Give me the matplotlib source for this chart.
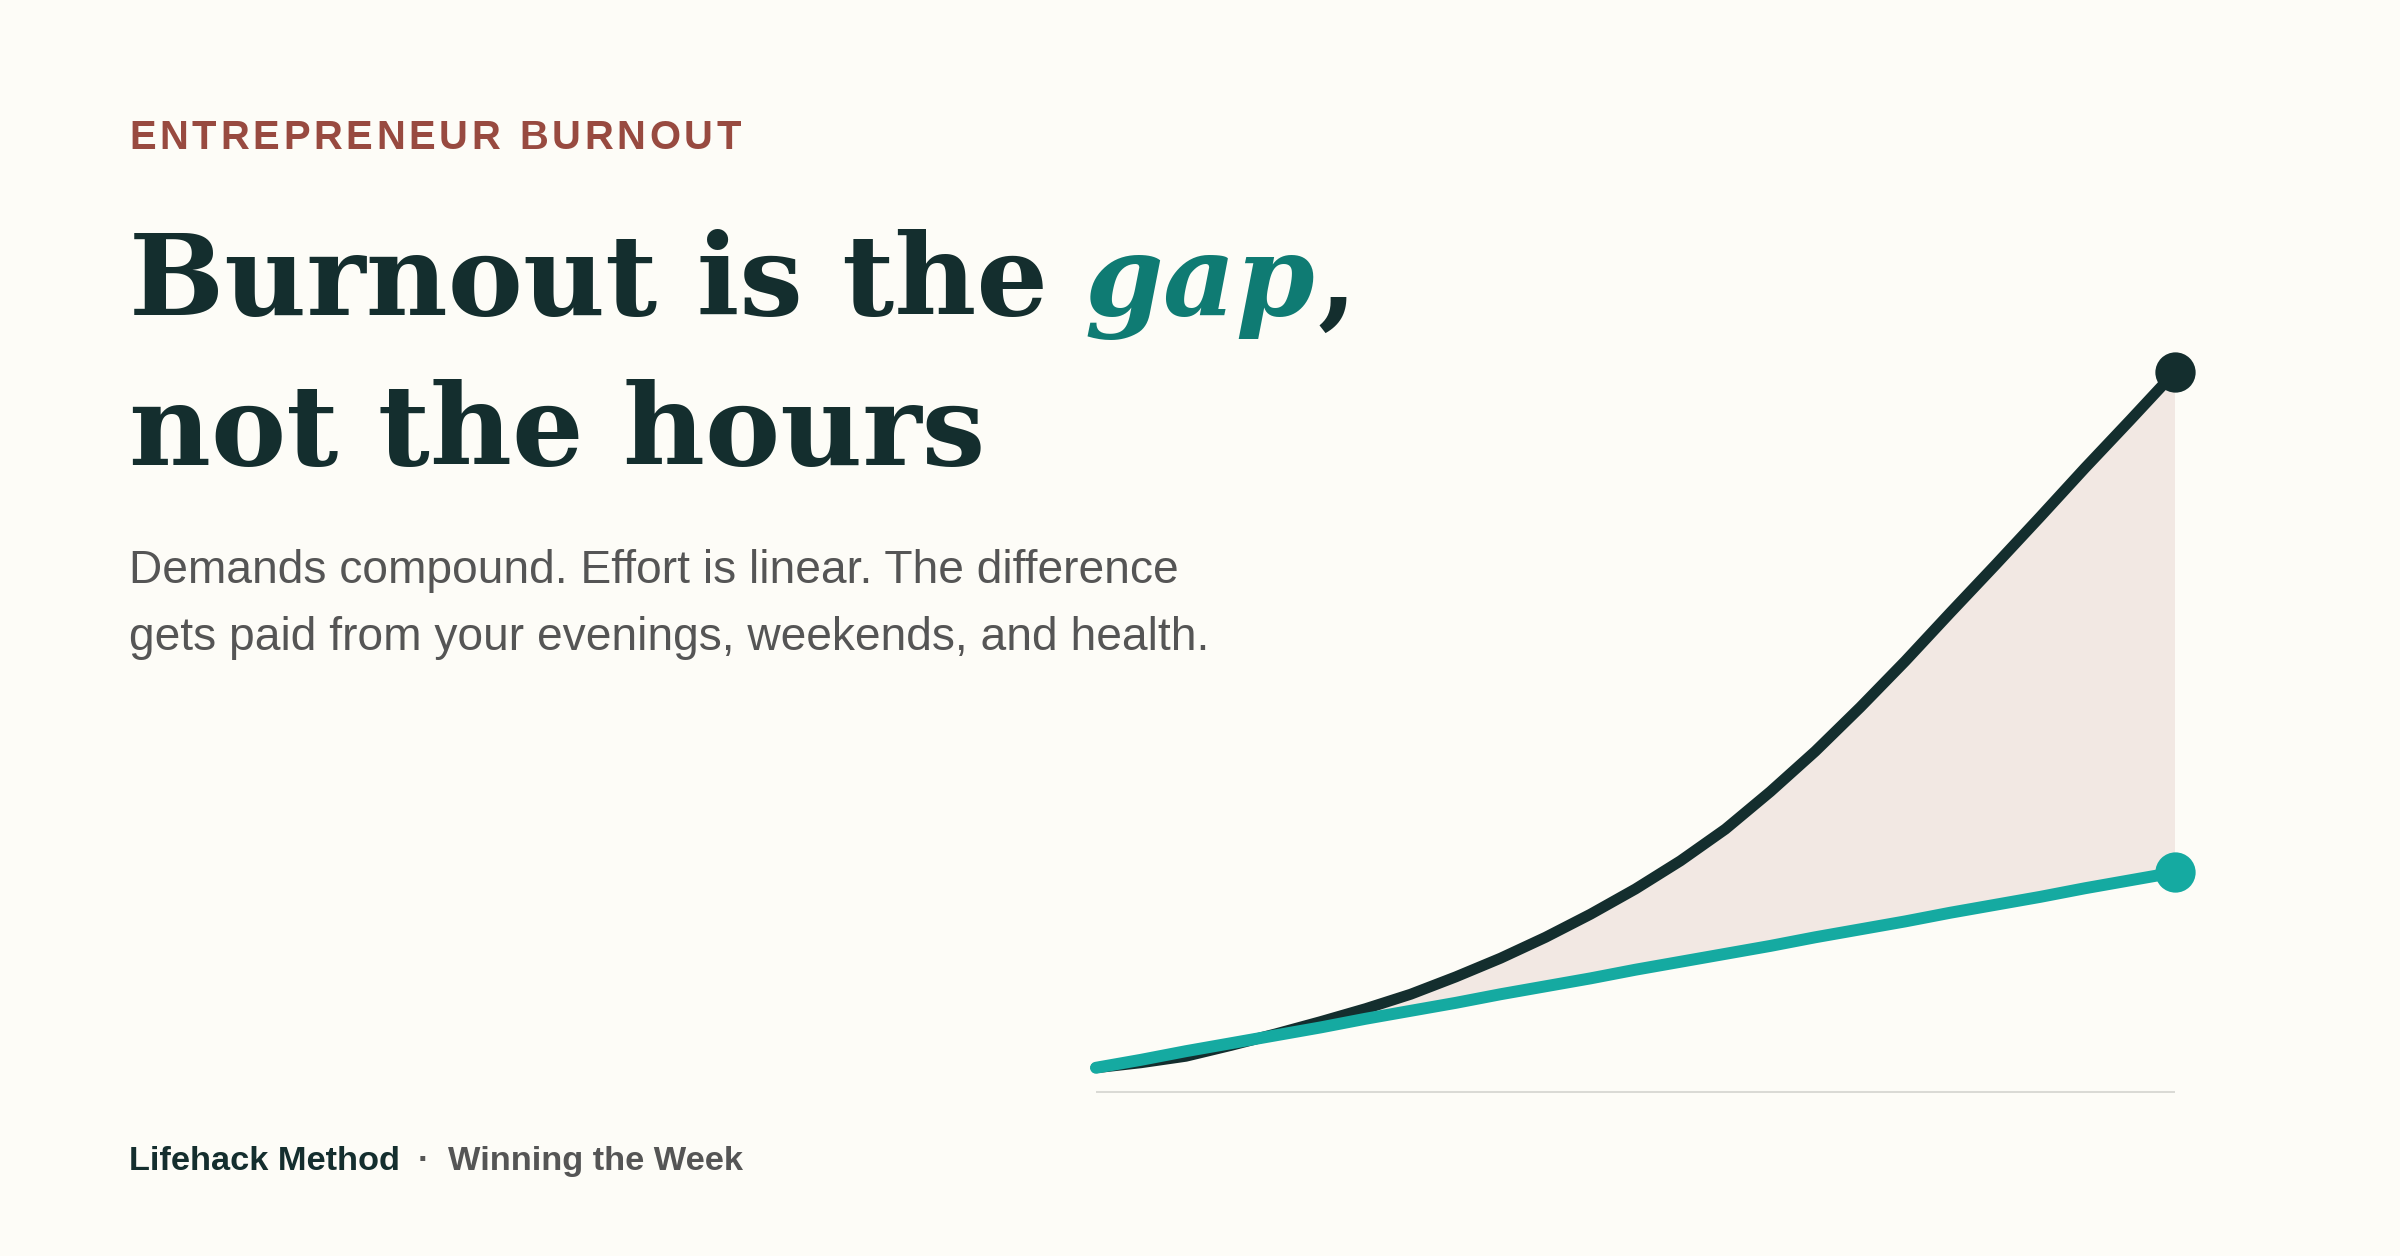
import matplotlib
matplotlib.use('Agg')
import matplotlib.pyplot as plt

# values (index, demands at the end = 100)
periods = [0, 0.5, 1, 1.5, 2, 2.5, 3, 3.5, 4, 4.5, 5, 5.5, 6,
           6.5, 7, 7.5, 8, 8.5, 9, 9.5, 10, 10.5, 11, 11.5, 12]
demands = [3.5, 4.2, 5.1, 6.6, 8.2, 9.9, 11.7, 13.7, 16.1, 18.7, 21.6, 24.8, 28.3,
           32.2, 36.6, 41.8, 47.4, 53.5, 59.9, 66.6, 73.2, 79.9, 86.7, 93.3, 100.0]
effort = [3.5, 4.6, 5.8, 6.9, 8.0, 9.1, 10.3, 11.4, 12.5, 13.7, 14.8, 15.9, 17.1,
          18.2, 19.3, 20.4, 21.6, 22.7, 23.8, 25.0, 26.1, 27.2, 28.4, 29.5, 30.6]

eyebrow = 'ENTREPRENEUR BURNOUT'
title_a = 'Burnout is the'
title_gap = 'gap'
title_b = 'not the hours'
subtitle = ['Demands compound. Effort is linear. The difference',
            'gets paid from your evenings, weekends, and health.']
brand = 'Lifehack Method'
series_name = 'Winning the Week'

BG = '#FDFCF7'
DARK = '#142E2E'
TEAL = '#15AAA1'
TEAL_TXT = '#0F7B73'
RUST = '#984A40'
GREY = '#555555'
FILL = '#F2E8E3'
RULE = '#DADAD5'
SERIF = 'DejaVu Serif'
SANS = 'Liberation Sans'

W, H, DPI = 2400, 1256, 100
fig = plt.figure(figsize=(W / DPI, H / DPI), dpi=DPI, facecolor=BG)
renderer = fig.canvas.get_renderer()


def fx(x):
    return x / W


def fy(y):
    return 1 - y / H


def pt(px):
    return px * 72 / DPI


def put(x, y, s, size_px, **kw):
    return fig.text(fx(x), fy(y), s, fontsize=pt(size_px), va='baseline', ha='left', **kw)


def width(t):
    return t.get_window_extent(renderer).width


def measure(s, size_px, **kw):
    t = put(0, -500, s, size_px, **kw)
    w = width(t)
    t.remove()
    return w


def fit(s, target, base=40, **kw):
    return base * target / measure(s, base, **kw)


# eyebrow with letter spacing
eb_size = 40
eb_kw = dict(family=SANS, weight='bold')
track = (612 - measure(eyebrow, eb_size, **eb_kw)) / (len(eyebrow) - 1)
for i, ch in enumerate(eyebrow):
    if ch == ' ':
        continue
    left = 129 + i * track + measure(eyebrow[:i + 1], eb_size, **eb_kw) - measure(ch, eb_size, **eb_kw)
    put(left, 149, ch, eb_size, color=RUST, **eb_kw)


# title
def title_line1(size, draw):
    kw = dict(family=SERIF, weight='bold')
    xg = 129 + measure(title_a, size, **kw) + 0.32 * size
    wg = measure(title_gap, size, style='italic', **kw)
    xc = xg + wg + 0.02 * size
    if draw:
        put(129, 315, title_a, size, color=DARK, **kw)
        put(xg, 315, title_gap, size, style='italic', color=TEAL_TXT, **kw)
        put(xc, 315, ',', size, color=DARK, **kw)
    return xc + measure(',', size, **kw)


ti_size = 110
ti_size = ti_size * (1355 - 129) / (title_line1(ti_size, False) - 129)
title_line1(ti_size, True)
put(129, 465, title_b, ti_size, family=SERIF, weight='bold', color=DARK)

# subtitle
sub_size = fit(subtitle[0], 1051, family=SANS)
for line, yb in zip(subtitle, [583, 650]):
    put(129, yb, line, sub_size, family=SANS, color=GREY)

# footer
ft_size = fit(brand, 271, family=SANS, weight='bold')
fb = put(129, 1170, brand, ft_size, family=SANS, weight='bold', color=DARK)
xd = 129 + width(fb) + 18
dot = put(xd, 1170, '·', ft_size, family=SANS, weight='bold', color=GREY)
put(xd + width(dot) + 18, 1170, series_name, ft_size, family=SANS, weight='bold', color=GREY)

# chart
ax = fig.add_axes([fx(1096), fy(1093), (2175 - 1096) / W, (1093 - 372) / H])
ax.set_xlim(periods[0], periods[-1])
ax.set_ylim(0, 100)
ax.axis('off')
ax.axhline(0, color=RULE, lw=2.9, zorder=1)
ax.fill_between(periods, effort, demands, where=[d >= e for d, e in zip(demands, effort)],
                interpolate=True, color=FILL, lw=0, zorder=1)
ax.plot(periods, demands, color=DARK, lw=7.9, solid_capstyle='round',
        solid_joinstyle='round', clip_on=False, zorder=3)
ax.plot(periods, effort, color=TEAL, lw=8.6, solid_capstyle='round',
        solid_joinstyle='round', clip_on=False, zorder=4)
ax.plot(periods[-1], demands[-1], 'o', ms=29, color=DARK, mew=0, clip_on=False, zorder=5)
ax.plot(periods[-1], effort[-1], 'o', ms=29, color=TEAL, mew=0, clip_on=False, zorder=5)

fig.savefig('out.png', dpi=DPI, facecolor=BG)
